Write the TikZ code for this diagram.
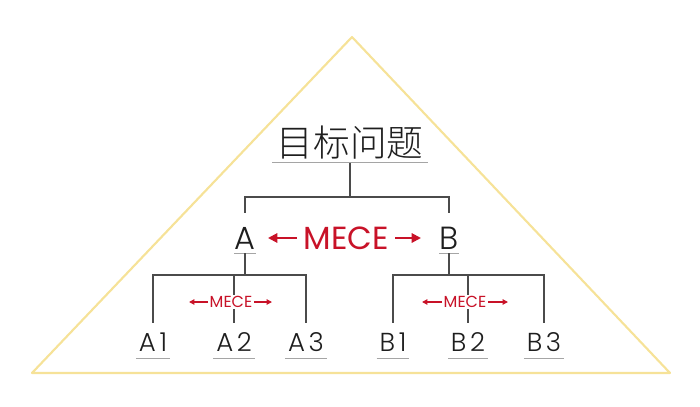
\documentclass[tikz,border=0pt]{standalone}
\usepackage{fontspec}
\setmainfont{Poppins}[UprightFont={* Light}]
\newfontfamily\mecefont{Poppins}
\newfontfamily\leaffont{Poppins}[UprightFont={* Light},LetterSpace=14]
\newfontfamily\cjk{Noto Sans CJK SC}[UprightFont={* Light}]
\usetikzlibrary{arrows.meta}

\begin{document}
\begin{tikzpicture}[x=0.75pt,y=0.75pt,yscale=-1,xscale=1,
  tri/.style={draw={rgb, 255:red, 246; green, 226; blue, 152 }, line width=1.6pt, line join=round},
  link/.style={draw={rgb, 255:red, 75; green, 75; blue, 75 }, line width=0.9pt},
  uline/.style={draw={rgb, 255:red, 165; green, 165; blue, 165 }, line width=1pt},
  goalbox/.style={inner xsep=3pt, inner ysep=2pt, text={rgb, 255:red, 30; green, 30; blue, 30 }, font=\cjk\fontsize{27.5}{27.5}\selectfont},
  topbox/.style={inner xsep=0pt, inner ysep=3pt, text={rgb, 255:red, 30; green, 30; blue, 30 }, font=\fontsize{24}{24}\selectfont},
  leafbox/.style={inner xsep=2pt, inner ysep=5pt, text={rgb, 255:red, 30; green, 30; blue, 30 }, font=\leaffont\fontsize{19.5}{19.5}\selectfont},
  bigmece/.style={inner xsep=5pt, inner ysep=0pt, text={rgb, 255:red, 200; green, 18; blue, 40 }, font=\mecefont\fontsize{24}{24}\selectfont},
  smallmece/.style={inner xsep=1pt, inner ysep=1pt, fill=white, text={rgb, 255:red, 200; green, 18; blue, 40 }, font=\mecefont\fontsize{12}{12}\selectfont},
  bigarr/.style={draw={rgb, 255:red, 200; green, 18; blue, 40 }, line width=1.5pt, -{Triangle[length=7pt,width=7pt]}},
  smallarr/.style={draw={rgb, 255:red, 200; green, 18; blue, 40 }, line width=0.9pt, -{Triangle[length=4pt,width=4pt]}}
]
\useasboundingbox (0,0) rectangle (700,407);

%Shape: Triangle
\draw[tri] (352,37) -- (670,373) -- (32,373) -- cycle ;

%Text nodes
\node[goalbox] (goal) at (350,143) {目标问题};
\node[topbox] (a) at (245,238) {A};
\node[topbox] (b) at (449,238) {B};
\node[leafbox] (a1) at (153,342) {A1};
\node[leafbox] (a2) at (234,342) {A2};
\node[leafbox] (a3) at (306,342) {A3};
\node[leafbox] (b1) at (393,342) {B1};
\node[leafbox] (b2) at (468,342) {B2};
\node[leafbox] (b3) at (544,342) {B3};

%Junctions
\coordinate (j0) at (350,197);
\coordinate (ja) at (245,275);
\coordinate (jb) at (449,275);

%Underlines
\draw[uline] (goal.south west) -- (goal.south east) ;
\draw[uline] (a.south west) -- (a.south east) ;
\draw[uline] (b.south west) -- (b.south east) ;
\draw[uline] (a1.south west) -- (a1.south east) ;
\draw[uline] (a2.south west) -- (a2.south east) ;
\draw[uline] (a3.south west) -- (a3.south east) ;
\draw[uline] (b1.south west) -- (b1.south east) ;
\draw[uline] (b2.south west) -- (b2.south east) ;
\draw[uline] (b3.south west) -- (b3.south east) ;

%Straight Lines
\draw[link] (goal.south) -- (j0) ;
\draw[link,shorten >=7pt] (j0) -| (a.north) ;
\draw[link,shorten >=7pt] (j0) -| (b.north) ;
\draw[link] (a.south) -- (ja) ;
\draw[link,shorten >=2pt] (ja) -| (a1.north) ;
\draw[link,shorten >=2pt] (ja) -| (a3.north) ;
\draw[link,shorten >=2pt] (a2.north |- ja) -- (a2.north) ;
\draw[link] (b.south) -- (jb) ;
\draw[link,shorten >=2pt] (jb) -| (b1.north) ;
\draw[link,shorten >=2pt] (jb) -| (b3.north) ;
\draw[link,shorten >=2pt] (b2.north |- jb) -- (b2.north) ;

%MECE labels
\node[bigmece] (mab) at (346,238) {MECE};
\coordinate (mabl) at (268,238);
\coordinate (mabr) at (421,238);
\draw[bigarr] (mab.west) -- (mabl) ;
\draw[bigarr] (mab.east) -- (mabr) ;

\node[smallmece] (ma) at (231,302) {MECE};
\coordinate (mal) at (189,302);
\coordinate (mar) at (272,302);
\draw[smallarr] (ma.west) -- (mal) ;
\draw[smallarr] (ma.east) -- (mar) ;

\node[smallmece] (mb) at (465,302) {MECE};
\coordinate (mbl) at (422,302);
\coordinate (mbr) at (508,302);
\draw[smallarr] (mb.west) -- (mbl) ;
\draw[smallarr] (mb.east) -- (mbr) ;

\end{tikzpicture}
\end{document}
